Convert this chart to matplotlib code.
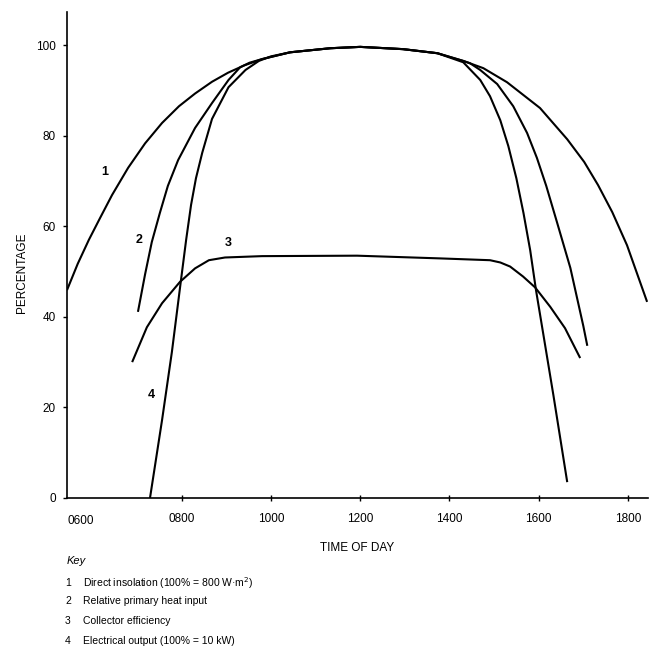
import matplotlib
matplotlib.use("Agg")
import matplotlib.pyplot as plt
from matplotlib.transforms import blended_transform_factory

plt.rcParams['font.family'] = ['Liberation Sans', 'DejaVu Sans']

# Curve 1: Direct insolation
h1 = [5.43, 5.67, 5.92, 6.17, 6.44, 6.80, 7.18, 7.56, 7.94, 8.30, 8.68, 9.04,
      9.40, 9.80, 10.43, 11.33, 12.0, 12.96, 13.73, 14.31, 14.76, 15.29, 16.03,
      16.64, 17.02, 17.33, 17.65, 17.98, 18.43]
p1 = [45.9, 51.7, 57.0, 61.8, 66.9, 72.9, 78.3, 82.8, 86.5, 89.3, 91.9, 93.9,
      95.5, 96.9, 98.4, 99.3, 99.6, 99.1, 98.2, 96.5, 94.9, 91.8, 86.1,
      79.2, 74.2, 69.1, 63.1, 55.8, 43.3]

# Curve 2: Relative primary heat input
h2 = [7.02, 7.18, 7.33, 7.51, 7.69, 7.92, 8.30, 8.68, 9.05, 9.31, 9.52, 9.80,
      10.43, 11.33, 12.0, 12.96, 13.73, 14.31, 14.46, 14.69, 15.07, 15.43,
      15.74, 15.96, 16.17, 16.41, 16.71, 17.0, 17.09]
p2 = [41.1, 49.4, 56.5, 62.9, 68.9, 74.6, 81.7, 87.2, 92.3, 95.1, 96.1, 96.9,
      98.4, 99.3, 99.6, 99.1, 98.2, 96.5, 96.0, 94.5, 91.4, 86.5,
      80.6, 75.1, 68.9, 60.9, 50.8, 38.0, 33.6]

# Curve 3: Collector efficiency
h3 = [6.89, 7.22, 7.56, 7.96, 8.30, 8.61, 8.97, 9.80, 11.93, 13.79, 14.91,
      15.14, 15.36, 15.65, 15.92, 16.26, 16.59, 16.93]
p3 = [30.0, 37.7, 43.0, 47.7, 50.7, 52.5, 53.1, 53.4, 53.5, 52.9, 52.5,
      52.0, 51.1, 48.9, 46.5, 42.2, 37.5, 30.9]

# Curve 4: Electrical output
h4 = [7.29, 7.56, 7.78, 7.97, 8.10, 8.21, 8.32, 8.46, 8.68, 9.05, 9.43, 9.73,
      10.0, 10.43, 11.33, 12.0, 12.96, 13.73, 14.31, 14.69, 14.91, 15.14,
      15.32, 15.50, 15.66, 15.81, 15.94, 16.10, 16.33, 16.64]
p4 = [0.0, 17.2, 32.2, 47.0, 57.0, 64.7, 70.6, 76.2, 83.7, 90.7, 94.5, 96.5,
      97.5, 98.4, 99.3, 99.6, 99.1, 98.2, 96.2, 92.3, 88.7, 83.4,
      77.7, 70.6, 62.9, 54.7, 45.9, 36.4, 22.7, 3.5]

curves = [(h1, p1), (h2, p2), (h3, p3), (h4, p4)]
curve_labels = ['1', '2', '3', '4']
label_pos = [(6.28, 71.9), (7.04, 57.0), (9.04, 56.3), (7.33, 22.7)]

xticks = [8, 10, 12, 14, 16, 18]
xticklabels = ['0800', '1000', '1200', '1400', '1600', '1800']
yticks = [0, 20, 40, 60, 80, 100]

key_items = ['Direct insolation (100% = 800 W\u00b7m$^2$)',
             'Relative primary heat input',
             'Collector efficiency',
             'Electrical output (100% = 10 kW)']

W, H = 654, 648
fig = plt.figure(figsize=(W / 100, H / 100), dpi=100)
ax = fig.add_axes([67 / W, 1 - 498 / H, (648 - 67) / W, (498 - 12) / H])

for (hx, py) in curves:
    ax.plot(hx, py, color='black', lw=1.5, solid_capstyle='butt',
            solid_joinstyle='round')

for lab, (lx, ly) in zip(curve_labels, label_pos):
    ax.text(lx, ly, lab, fontsize=9, fontweight='bold', ha='center', va='center')

ax.set_xlim(5.43, 18.45)
ax.set_ylim(0, 107.3)
ax.spines['top'].set_visible(False)
ax.spines['right'].set_visible(False)
ax.spines['left'].set_linewidth(1.2)
ax.spines['bottom'].set_linewidth(1.2)
ax.set_xticks(xticks)
ax.set_xticklabels(xticklabels, fontsize=8.5)
ax.set_yticks(yticks)
ax.set_yticklabels([str(v) for v in yticks], fontsize=8.5)
ax.tick_params(axis='x', direction='inout', length=5, width=1, pad=8)
ax.tick_params(axis='y', direction='out', length=3, width=1, pad=5)

trans = blended_transform_factory(ax.transData, ax.transAxes)
ax.text(5.74, -0.035, '0600', fontsize=8.5, ha='center', va='top', transform=trans)

fig.text(22 / W, 1 - 273 / H, 'PERCENTAGE', rotation=90, fontsize=8.5,
         ha='center', va='center')
fig.text(357 / W, 1 - 548 / H, 'TIME OF DAY', fontsize=8.5, ha='center', va='center')

fig.text(67 / W, 1 - 561 / H, 'Key', fontsize=8, style='italic', ha='left', va='center')
key_y = [583, 601, 621, 641]
for i, (txt, yy) in enumerate(zip(key_items, key_y)):
    fig.text(68 / W, 1 - yy / H, str(i + 1), fontsize=7.5, ha='center', va='center')
    fig.text(83 / W, 1 - yy / H, txt, fontsize=7.5, ha='left', va='center')

fig.savefig('out.png', dpi=100, facecolor='white')
